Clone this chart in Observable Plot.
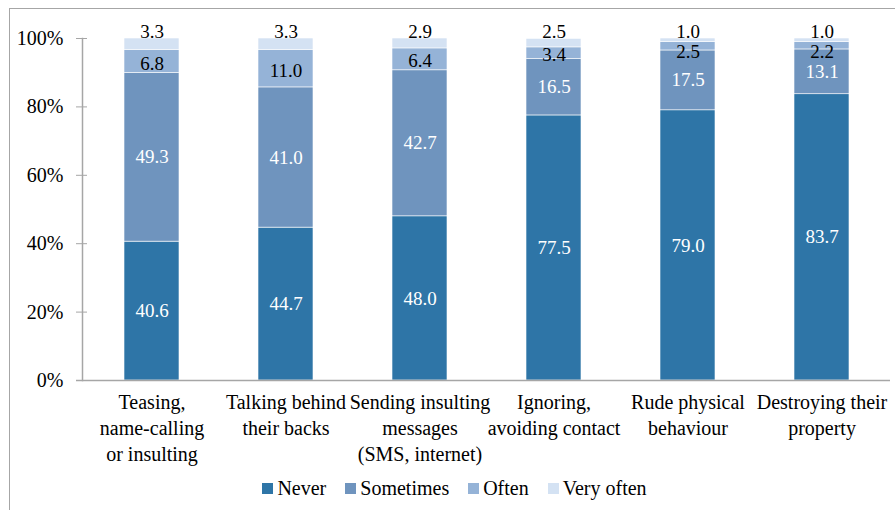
<!DOCTYPE html>
<html>
<head>
<meta charset="utf-8">
<script src="https://cdn.jsdelivr.net/npm/d3@7"></script>
<script src="https://cdn.jsdelivr.net/npm/@observablehq/plot@0.6"></script>
<style>
  html, body { margin: 0; padding: 0; background: #fff; overflow: hidden; }
  body { width: 895px; height: 510px; position: relative; font-family: "Liberation Serif", "Times New Roman", Times, serif; }
  .frame { position: absolute; left: 9px; top: 8px; width: 1200px; height: 800px; border: 1.5px solid #a6a6a6; box-sizing: border-box; }
  #chart { position: absolute; left: 0; top: 0; }
  .legend { position: absolute; left: 0; top: 477px; width: 895px; display: flex; justify-content: center; gap: 19px; padding-left: 14px; box-sizing: border-box; font-size: 20px; line-height: 22px; color: #000; }
  .legend span.item { display: inline-flex; align-items: center; }
  .legend i { display: inline-block; width: 11px; height: 11px; margin-right: 4px; }
</style>
</head>
<body>
<div class="frame"></div>
<div id="chart"></div>
<div class="legend" id="legend"></div>
<script>
// Bullying behaviours and how often they were reported (percent of respondents)
const categories = [
  "Teasing,\nname-calling\nor insulting",
  "Talking behind\ntheir backs",
  "Sending insulting\nmessages\n(SMS, internet)",
  "Ignoring,\navoiding contact",
  "Rude physical\nbehaviour",
  "Destroying their\nproperty"
];
const never     = [40.6, 44.7, 48.0, 77.5, 79.0, 83.7];
const sometimes = [49.3, 41.0, 42.7, 16.5, 17.5, 13.1];
const often     = [6.8, 11.0, 6.4, 3.4, 2.5, 2.2];
const veryOften = [3.3, 3.3, 2.9, 2.5, 1.0, 1.0];

const seriesNames = ["Never", "Sometimes", "Often", "Very often"];
const seriesColors = ["#2e75a7", "#6f94be", "#95b3d7", "#d4e2f3"];
const yTicks = [0, 20, 40, 60, 80, 100];

const seriesValues = [never, sometimes, often, veryOften];
const rows = categories.flatMap((category, i) =>
  seriesNames.map((series, j) => ({category, series, value: seriesValues[j][i]}))
);

const fmt = v => v.toFixed(1);
const font = "'Liberation Serif', 'Times New Roman', Times, serif";
const axisGray = "#a6a6a6";

// labels for the "Often" segments; thin segments get their label pushed lower
const oftenLabel = (thin) => d =>
  d.series === "Often" && (d.value < 3) === thin ? fmt(d.value) : null;

const chart = Plot.plot({
  width: 895,
  height: 470,
  marginTop: 38,
  marginLeft: 82,
  marginRight: 5,
  marginBottom: 90,
  style: {fontFamily: font, fontSize: "20px", color: "#000", background: "transparent"},
  x: {domain: categories, paddingInner: 0.59, paddingOuter: 0.295, label: null},
  y: {domain: [0, 100], label: null},
  color: {domain: seriesNames, range: seriesColors},
  marks: [
    Plot.barY(rows, {x: "category", y: "value", fill: "series", z: "series", stroke: "white", strokeWidth: 0.6}),
    // tick marks crossing the value axis
    Plot.axisY({ticks: yTicks, tickSize: 11, dx: 5, tickFormat: () => "", stroke: axisGray, strokeOpacity: 1, label: null}),
    // tick labels
    Plot.axisY({ticks: yTicks, tickSize: 0, tickPadding: 19, tickFormat: d => d + "%", fontSize: 20, fontFamily: font, label: null}),
    Plot.frame({anchor: "left", stroke: axisGray, strokeWidth: 1.5}),
    Plot.ruleY([0], {stroke: axisGray, strokeWidth: 1.5, insetLeft: -6}),
    Plot.axisX({tickSize: 0, tickPadding: 10, fontSize: 20, fontFamily: font, lineHeight: 1.3, label: null}),
    // value labels centred in the dark segments
    Plot.text(rows, Plot.stackY({
      x: "category", y: "value", z: "series",
      text: d => (d.series === "Never" || d.series === "Sometimes") ? fmt(d.value) : null,
      fill: "white", fontSize: 19, fontFamily: font
    })),
    Plot.text(rows, Plot.stackY({
      x: "category", y: "value", z: "series",
      text: oftenLabel(false), fill: "black", fontSize: 19, fontFamily: font, dy: 2
    })),
    Plot.text(rows, Plot.stackY({
      x: "category", y: "value", z: "series",
      text: oftenLabel(true), fill: "black", fontSize: 19, fontFamily: font, dy: 6
    })),
    // "Very often" values sit on top of each bar
    Plot.text(rows, Plot.stackY2({
      x: "category", y: "value", z: "series",
      text: d => d.series === "Very often" ? fmt(d.value) : null,
      fill: "black", fontSize: 19, fontFamily: font, lineAnchor: "bottom", dy: -1
    }))
  ]
});
document.getElementById("chart").append(chart);

const legend = document.getElementById("legend");
seriesNames.forEach((name, i) => {
  const item = document.createElement("span");
  item.className = "item";
  const sw = document.createElement("i");
  sw.style.background = seriesColors[i];
  item.append(sw, document.createTextNode(name));
  legend.append(item);
});
</script>
</body>
</html>
